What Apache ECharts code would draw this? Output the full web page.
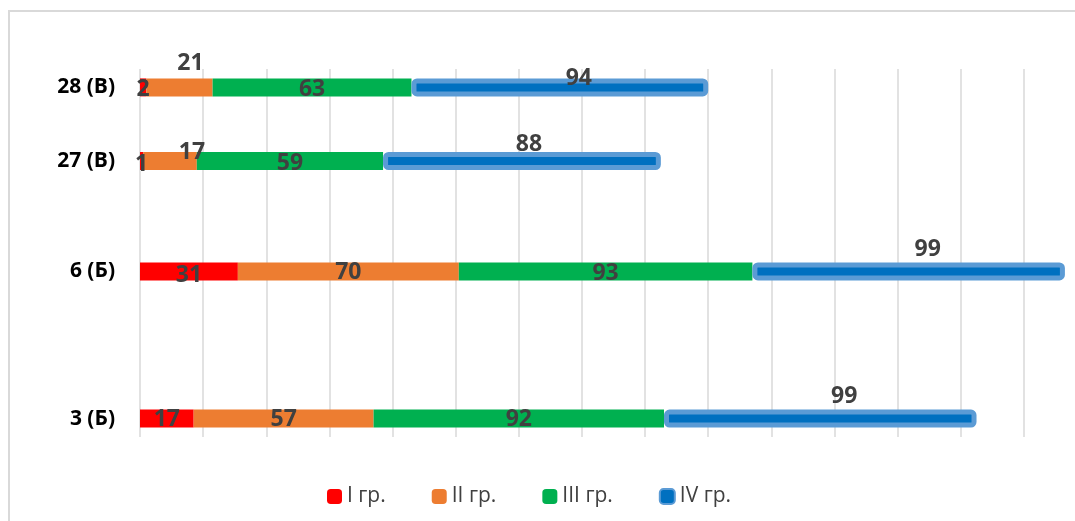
<!DOCTYPE html>
<html>
<head>
<meta charset="utf-8">
<script src="https://cdn.jsdelivr.net/npm/echarts@6/dist/echarts.min.js"></script>
<style>
    html, body { margin: 0; padding: 0; background: #fff; }
    #chart { width: 1075px; height: 521px; }
</style>
</head>
<body>
<div id="chart"></div>
<script>
// категории снизу вверх
const categories = ['3 (Б)', '6 (Б)', '27 (В)', '28 (В)'];
const groupNames = ['I гр.', 'II гр.', 'III гр.', 'IV гр.'];
const group1 = [17, 31, 1, 2];
const group2 = [57, 70, 17, 21];
const group3 = [92, 93, 59, 63];
const group4 = [99, 99, 88, 94];
const xMin = 0;
const xMax = 300;
const xStep = 20;

// раскладка: строки стоят не равномерно, пустые слоты между ними
const slotCount = 10;
const rowSlots = [0, 4, 7, 9];
const colors = ['#FF0000', '#ED7D31', '#00B050', '#0070C0'];
// сдвиги подписей (как в исходнике, подписи двигали руками)
const labelShift = [
    [[0, 1], [0, 4], [0, 3], [0, 2]],
    [[0, 1], [0, 1], [22, -9], [11, -24]],
    [[0, 1], [0, 2], [0, 2], [0, 2]],
    [[24, -22], [19, -22], [7, -17], [19, -9]]
];

const font = '"Open Sans", "Noto Sans", sans-serif';

// ось Y на все слоты
let yData = [];
for (let i = 0; i < slotCount; i++) yData.push('');
rowSlots.forEach((s, i) => { yData[s] = categories[i]; });

function toSlots(values, si) {
    let arr = [];
    for (let i = 0; i < slotCount; i++) arr.push('-');
    values.forEach((v, i) => {
        arr[rowSlots[i]] = {
            value: v,
            label: { offset: labelShift[si][i] }
        };
    });
    return arr;
}

const groups = [group1, group2, group3, group4];

let series = groups.map((g, si) => {
    let s = {
        name: groupNames[si],
        type: 'bar',
        stack: 'total',
        barWidth: 18,
        data: toSlots(g, si),
        itemStyle: { color: colors[si] },
        label: {
            show: true,
            position: 'inside',
            fontFamily: font,
            fontSize: 23,
            fontWeight: 'bold',
            color: '#404040'
        }
    };
    if (si === 3) {
        s.itemStyle = {
            color: '#0070C0',
            borderColor: '#5B9BD5',
            borderWidth: 5,
            borderRadius: 3
        };
    }
    return s;
});

let chart = echarts.init(document.getElementById('chart'));

let option = {
    animation: false,
    graphic: [{
        type: 'rect',
        z: -10,
        shape: { x: 9, y: 11, width: 1200, height: 1000 },
        style: { fill: 'none', stroke: '#d9d9d9', lineWidth: 2 }
    }],
    grid: {
        left: 140,
        right: -12,
        top: 69,
        bottom: 84,
        outerBoundsMode: 'none'
    },
    legend: {
        bottom: 9,
        left: 322,
        itemWidth: 15,
        itemHeight: 15,
        itemGap: 46,
        textStyle: { fontFamily: font, fontSize: 21, color: '#404040' },
        data: groupNames
    },
    xAxis: {
        type: 'value',
        min: xMin,
        max: xMax,
        interval: xStep,
        axisLabel: { show: false },
        axisLine: { show: false },
        axisTick: { show: false },
        splitLine: { lineStyle: { color: '#d9d9d9', width: 1.5 } }
    },
    yAxis: {
        type: 'category',
        data: yData,
        axisLine: { show: false },
        axisTick: { show: false },
        axisLabel: {
            interval: 0,
            margin: 25,
            fontFamily: font,
            fontSize: 21,
            fontWeight: 'bold',
            color: '#000'
        }
    },
    series: series
};

chart.setOption(option);
</script>
</body>
</html>
